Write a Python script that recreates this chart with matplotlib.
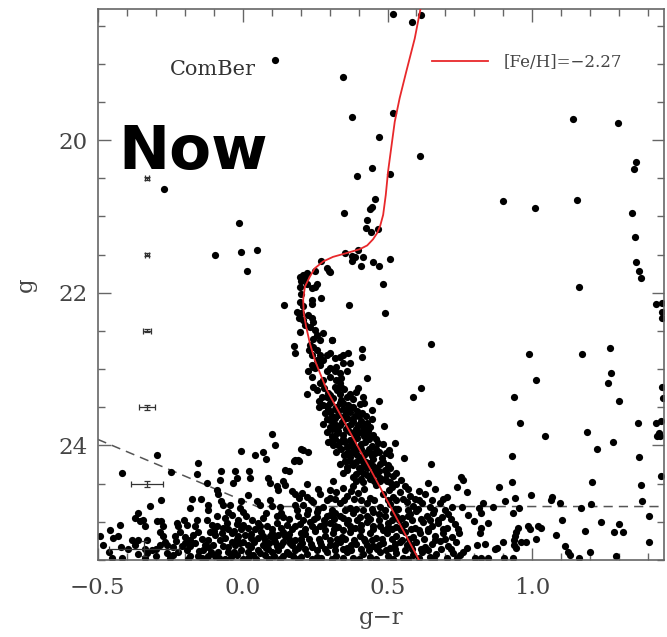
import numpy as np
import matplotlib
matplotlib.use("Agg")
import matplotlib.pyplot as plt
from matplotlib.ticker import MultipleLocator

#%% Data (g-r, g)
bright_stars = [
    (0.112, 18.95), (-0.27, 20.64), (-0.013, 21.09), (-0.094, 21.51), (-0.006, 21.47), (0.05, 21.44),
    (0.014, 21.71), (0.143, 22.16), (0.272, 22.07), (0.299, 21.72), (0.272, 21.59),
    (0.519, 18.35), (0.583, 18.46), (0.617, 18.36), (0.347, 19.18), (0.378, 19.70), (0.519, 19.65),
    (0.47, 19.96), (0.611, 20.21), (0.447, 20.36), (0.395, 20.47), (0.508, 20.45), (0.349, 20.95),
    (0.456, 20.77), (0.447, 20.88), (0.441, 20.90), (0.428, 21.05), (0.425, 21.15), (0.466, 21.17),
    (0.442, 21.21), (0.353, 21.48), (0.399, 21.44), (0.379, 21.58), (0.387, 21.53), (0.416, 21.53),
    (0.407, 21.65), (0.45, 21.60), (0.47, 21.65), (0.508, 21.56), (0.483, 21.88), (0.367, 22.16),
    (0.491, 22.27), (0.376, 21.52), (0.29, 21.67), (0.30, 21.73),
]
field_stars = [
    (1.141, 19.72), (1.295, 19.78), (1.359, 20.29), (1.35, 20.38), (0.897, 20.80), (1.01, 20.89),
    (1.153, 20.79), (1.345, 20.95), (1.353, 21.27), (1.359, 21.60), (1.367, 21.71), (1.376, 21.81),
    (1.161, 21.92), (1.428, 22.15), (1.447, 22.14), (1.447, 22.25), (1.447, 22.33), (1.267, 22.72),
    (1.172, 22.80), (1.272, 23.05), (1.26, 23.18), (1.299, 23.42), (1.446, 23.23), (1.45, 23.38),
    (1.364, 23.71), (1.425, 23.71), (1.443, 23.68), (1.437, 23.84), (1.43, 23.87), (1.442, 23.88),
    (1.045, 23.88), (1.19, 23.82), (0.649, 22.67), (0.987, 22.80), (1.012, 23.14), (0.428, 23.12),
    (0.588, 23.36), (0.617, 23.25), (0.937, 23.37), (0.956, 23.71), (1.224, 24.04), (1.278, 23.96),
    (0.93, 24.14), (1.368, 24.15), (0.412, 22.74), (0.412, 22.84), (0.471, 23.42), (0.488, 23.75),
    (0.525, 23.97), (0.505, 24.06), (0.556, 24.17), (0.649, 24.24),
]
turnoff_stars = [
    (0.249, 21.71), (0.221, 21.74), (0.209, 21.77), (0.198, 21.80), (0.215, 21.81), (0.203, 21.85),
    (0.221, 21.88), (0.198, 21.92), (0.238, 21.94), (0.255, 21.88), (0.249, 21.92), (0.238, 22.09),
    (0.241, 22.15), (0.203, 22.01), (0.198, 22.12), (0.207, 22.18), (0.186, 22.25), (0.203, 22.27),
    (0.195, 22.33), (0.209, 22.36), (0.226, 22.29), (0.238, 22.33), (0.243, 22.38), (0.215, 22.42),
    (0.232, 22.45), (0.249, 22.49), (0.198, 22.51), (0.255, 22.55), (0.267, 22.62), (0.243, 22.60),
    (0.307, 22.62), (0.276, 22.53), (0.177, 22.70), (0.180, 22.79), (0.232, 22.68), (0.243, 22.71),
    (0.230, 22.75), (0.255, 22.75), (0.238, 22.81), (0.267, 22.81), (0.255, 22.88), (0.238, 22.95),
    (0.249, 22.99), (0.267, 22.95), (0.278, 22.88), (0.290, 22.81), (0.301, 22.79), (0.318, 22.86),
    (0.336, 22.84), (0.347, 22.81), (0.364, 22.79), (0.347, 22.92), (0.370, 22.92), (0.324, 22.97),
    (0.301, 22.99), (0.318, 23.03), (0.336, 23.05), (0.290, 23.03), (0.359, 23.03), (0.341, 23.11),
    (0.324, 23.14), (0.301, 23.10), (0.336, 23.18), (0.278, 23.14), (0.267, 23.18), (0.243, 23.23),
    (0.238, 23.10), (0.226, 23.03), (0.243, 22.97), (0.318, 23.23), (0.341, 23.23), (0.399, 23.25),
    (0.309, 22.62),
]
ms_stars = [
    (0.221, 23.33), (0.273, 23.36), (0.296, 23.31), (0.313, 23.38), (0.336, 23.33), (0.359, 23.36), (0.382, 23.39),
    (0.278, 23.47), (0.301, 23.44), (0.324, 23.49), (0.347, 23.45), (0.370, 23.50), (0.405, 23.46),
    (0.284, 23.57), (0.307, 23.61), (0.330, 23.55), (0.353, 23.60), (0.370, 23.56), (0.388, 23.62), (0.411, 23.58), (0.445, 23.54),
    (0.278, 23.72), (0.301, 23.67), (0.319, 23.75), (0.342, 23.69), (0.365, 23.74), (0.382, 23.68), (0.399, 23.73), (0.428, 23.70), (0.439, 23.76),
    (0.29, 23.82), (0.307, 23.87), (0.33, 23.81), (0.347, 23.86), (0.37, 23.83), (0.388, 23.89), (0.411, 23.84), (0.428, 23.88), (0.434, 23.81),
    (0.296, 23.95), (0.313, 24.0), (0.336, 23.96), (0.359, 24.02), (0.382, 23.97), (0.399, 24.03), (0.422, 23.95), (0.445, 24.01), (0.468, 23.97),
    (0.324, 24.08), (0.37, 24.15), (0.388, 24.1), (0.405, 24.16), (0.428, 24.09), (0.445, 24.14), (0.457, 24.1), (0.48, 24.16), (0.508, 24.12),
    (0.336, 24.24), (0.359, 24.28), (0.393, 24.22), (0.416, 24.27), (0.439, 24.23), (0.462, 24.29), (0.503, 24.25),
    (0.347, 24.36), (0.382, 24.41), (0.405, 24.34), (0.428, 24.39), (0.451, 24.35), (0.474, 24.42), (0.497, 24.37), (0.52, 24.40),
    (0.221, 24.5), (0.313, 24.47), (0.382, 24.53), (0.416, 24.48), (0.462, 24.52), (0.497, 24.47), (0.514, 24.55), (0.531, 24.5),
    (0.56, 24.53), (0.641, 24.49),
    (0.262, 23.42), (0.29, 23.36), (0.318, 23.52), (0.34, 23.40), (0.362, 23.47), (0.295, 23.52), (0.32, 23.64), (0.345, 23.52),
    (0.378, 23.66), (0.4, 23.62), (0.31, 23.78), (0.335, 23.73), (0.356, 23.79), (0.39, 23.78), (0.415, 23.76), (0.32, 23.92),
    (0.345, 23.91), (0.37, 23.93), (0.395, 23.90), (0.42, 23.88), (0.34, 24.05), (0.36, 24.10), (0.385, 24.05), (0.41, 24.04),
    (0.435, 24.05), (0.46, 24.04), (0.37, 24.20), (0.41, 24.19), (0.45, 24.18), (0.485, 24.22), (0.43, 24.30), (0.47, 24.33),
    (0.39, 24.46), (0.44, 24.44), (0.49, 24.44),
]
ms_dense = [
    (0.255, 23.27), (0.28, 23.25), (0.30, 23.34), (0.325, 23.28), (0.35, 23.26), (0.37, 23.33), (0.39, 23.30), (0.415, 23.36),
    (0.265, 23.50), (0.29, 23.48), (0.335, 23.44), (0.355, 23.54), (0.38, 23.49), (0.42, 23.44), (0.30, 23.56), (0.33, 23.60),
    (0.36, 23.64), (0.395, 23.55), (0.425, 23.62), (0.29, 23.66), (0.315, 23.70), (0.35, 23.66), (0.375, 23.72), (0.41, 23.68),
    (0.445, 23.66), (0.30, 23.76), (0.325, 23.84), (0.36, 23.80), (0.38, 23.84), (0.40, 23.82), (0.42, 23.80), (0.45, 23.86),
    (0.31, 23.93), (0.33, 23.99), (0.355, 23.95), (0.375, 24.0), (0.41, 23.98), (0.435, 23.92), (0.46, 23.92), (0.485, 23.98),
    (0.35, 24.12), (0.375, 24.08), (0.395, 24.13), (0.42, 24.12), (0.44, 24.10), (0.47, 24.08), (0.495, 24.10), (0.355, 24.20),
    (0.38, 24.25), (0.40, 24.30), (0.425, 24.22), (0.45, 24.27), (0.475, 24.24), (0.51, 24.30), (0.36, 24.32), (0.39, 24.38),
    (0.415, 24.36), (0.44, 24.40), (0.465, 24.38), (0.49, 24.32), (0.53, 24.36), (0.41, 24.44), (0.455, 24.47), (0.475, 24.46),
    (0.51, 24.48), (0.545, 24.45),
]
faint_mid = [
    (0.204, 24.62), (0.221, 24.68), (0.267, 24.64), (0.301, 24.69), (0.324, 24.61), (0.359, 24.66), (0.399, 24.62), (0.439, 24.69),
    (0.485, 24.64), (0.52, 24.68), (0.543, 24.61), (0.577, 24.66), (0.595, 24.7), (0.629, 24.63), (0.704, 24.67),
    (0.21, 24.78), (0.244, 24.74), (0.278, 24.8), (0.336, 24.76), (0.37, 24.82), (0.428, 24.75), (0.474, 24.8), (0.508, 24.77),
    (0.537, 24.83), (0.566, 24.74), (0.589, 24.79), (0.618, 24.75), (0.646, 24.81), (0.681, 24.76), (0.721, 24.8),
    (0.221, 24.9), (0.255, 24.87), (0.29, 24.93), (0.319, 24.88), (0.347, 24.95), (0.382, 24.89), (0.405, 24.94), (0.451, 24.87),
    (0.491, 24.92), (0.52, 24.88), (0.549, 24.95), (0.577, 24.9), (0.6, 24.86), (0.635, 24.93), (0.658, 24.88), (0.687, 24.94), (0.71, 24.9),
    (0.198, 25.03), (0.233, 25.0), (0.267, 25.06), (0.301, 25.01), (0.33, 25.07), (0.359, 25.02), (0.388, 25.08), (0.428, 25.0),
    (0.474, 25.05), (0.503, 25.01), (0.531, 25.07), (0.56, 25.03), (0.595, 25.08), (0.623, 25.0), (0.652, 25.06), (0.675, 25.02),
    (0.704, 25.08), (0.733, 25.03),
    (0.215, 25.16), (0.25, 25.12), (0.284, 25.19), (0.313, 25.14), (0.342, 25.2), (0.37, 25.13), (0.405, 25.18), (0.439, 25.14),
    (0.462, 25.21), (0.497, 25.15), (0.531, 25.19), (0.56, 25.13), (0.589, 25.2), (0.612, 25.15), (0.641, 25.12), (0.664, 25.18),
    (0.692, 25.14), (0.721, 25.2),
    (0.204, 25.28), (0.238, 25.33), (0.267, 25.26), (0.301, 25.31), (0.336, 25.27), (0.359, 25.34), (0.393, 25.29), (0.422, 25.25),
    (0.451, 25.32), (0.485, 25.28), (0.508, 25.34), (0.543, 25.26), (0.566, 25.31), (0.6, 25.27), (0.629, 25.33), (0.652, 25.29),
    (0.681, 25.25), (0.71, 25.32), (0.738, 25.27),
    (0.221, 25.42), (0.255, 25.46), (0.29, 25.4), (0.324, 25.45), (0.359, 25.39), (0.382, 25.47), (0.416, 25.42), (0.439, 25.46),
    (0.474, 25.4), (0.503, 25.45), (0.531, 25.41), (0.554, 25.47), (0.589, 25.43), (0.618, 25.39), (0.646, 25.46), (0.669, 25.42),
    (0.704, 25.47), (0.727, 25.41),
]
faint_mid_dense = [
    (0.26, 24.57), (0.30, 24.58), (0.345, 24.56), (0.375, 24.59), (0.42, 24.57), (0.505, 24.58), (0.57, 24.57), (0.61, 24.59), (0.665, 24.57),
    (0.235, 24.71), (0.29, 24.72), (0.32, 24.70), (0.35, 24.72), (0.385, 24.70), (0.41, 24.71), (0.455, 24.72), (0.50, 24.71),
    (0.53, 24.72), (0.555, 24.70), (0.61, 24.72), (0.655, 24.71), (0.69, 24.70),
    (0.225, 24.84), (0.26, 24.83), (0.31, 24.85), (0.355, 24.84), (0.39, 24.83), (0.415, 24.85), (0.445, 24.83), (0.49, 24.85),
    (0.525, 24.83), (0.57, 24.85), (0.605, 24.83), (0.66, 24.85), (0.70, 24.84),
    (0.21, 24.97), (0.245, 24.96), (0.28, 24.98), (0.315, 24.96), (0.365, 24.98), (0.395, 24.97), (0.44, 24.96), (0.47, 24.97),
    (0.515, 24.97), (0.54, 24.98), (0.585, 24.97), (0.615, 24.96), (0.645, 24.98), (0.675, 24.97), (0.72, 24.96),
    (0.215, 25.10), (0.25, 25.09), (0.285, 25.11), (0.315, 25.09), (0.345, 25.11), (0.375, 25.09), (0.41, 25.11), (0.45, 25.09),
    (0.485, 25.11), (0.515, 25.10), (0.545, 25.11), (0.58, 25.09), (0.61, 25.11), (0.64, 25.09), (0.69, 25.10),
    (0.23, 25.23), (0.265, 25.22), (0.30, 25.24), (0.325, 25.23), (0.355, 25.22), (0.385, 25.24), (0.42, 25.22), (0.445, 25.24),
    (0.48, 25.23), (0.515, 25.22), (0.55, 25.24), (0.575, 25.22), (0.625, 25.23), (0.665, 25.24), (0.70, 25.22),
    (0.215, 25.36), (0.255, 25.37), (0.285, 25.35), (0.32, 25.37), (0.345, 25.36), (0.375, 25.37), (0.41, 25.35), (0.435, 25.37),
    (0.465, 25.36), (0.495, 25.37), (0.525, 25.35), (0.56, 25.37), (0.585, 25.36), (0.615, 25.35), (0.64, 25.37), (0.685, 25.36),
    (0.72, 25.35),
]
faint_left = [
    (0.103, 23.85), (0.111, 23.99), (-0.297, 24.12), (-0.006, 24.07), (0.042, 24.12), (0.069, 24.09), (0.079, 24.18),
    (-0.155, 24.23), (-0.157, 24.37), (-0.247, 24.35), (-0.417, 24.36), (-0.073, 24.34), (-0.027, 24.34), (-0.021, 24.43),
    (-0.032, 24.49), (0.022, 24.33), (0.025, 24.43), (-0.124, 24.49), (-0.078, 24.45), (0.088, 24.43), (0.094, 24.49),
    (0.117, 24.53), (0.123, 24.58), (0.148, 24.32), (0.16, 24.34), (0.178, 24.20), (0.194, 24.20), (0.201, 24.04),
    (0.14, 24.47), (0.146, 24.52), (0.169, 24.60), (0.18, 24.63), (-0.09, 24.58), (-0.084, 24.63), (-0.282, 24.71),
    (-0.173, 24.70), (-0.144, 24.70), (-0.32, 24.79), (-0.182, 24.82), (-0.121, 24.78), (-0.119, 24.84), (-0.073, 24.73),
    (-0.067, 24.78), (-0.044, 24.78), (-0.05, 24.87), (-0.038, 24.91), (-0.004, 24.73), (-0.009, 24.82), (0.002, 24.87),
    (0.048, 24.73), (0.06, 24.78), (0.019, 24.65), (0.094, 24.71), (0.1, 24.79), (0.129, 24.80), (0.134, 24.89),
    (0.14, 24.94), (0.18, 24.78), (0.186, 24.84), (0.194, 24.69), (-0.362, 24.89), (-0.371, 24.95), (-0.354, 24.99),
    (-0.343, 24.97), (-0.337, 25.06), (-0.297, 24.99), (-0.28, 24.99), (-0.274, 25.06), (-0.285, 25.13), (-0.274, 25.19),
    (-0.268, 25.26), (-0.285, 25.30), (-0.228, 25.01), (-0.222, 25.06), (-0.216, 25.13), (-0.233, 25.19), (-0.201, 24.97),
    (-0.193, 25.04), (-0.159, 24.97), (-0.165, 25.06), (-0.153, 25.13), (-0.17, 25.17), (-0.182, 25.24), (-0.165, 25.28),
    (-0.124, 24.97), (-0.107, 25.04), (-0.113, 25.13), (-0.095, 25.17), (-0.118, 25.24), (-0.101, 25.30), (-0.078, 25.24),
    (-0.061, 24.95), (-0.055, 25.02), (-0.067, 25.08), (-0.05, 25.10), (-0.038, 25.15), (-0.061, 25.21), (-0.038, 25.26),
    (-0.027, 25.30), (-0.067, 25.32), (-0.05, 25.39), (-0.015, 24.98), (0.002, 25.04), (-0.004, 25.10), (0.008, 25.17),
    (-0.015, 25.19), (0.002, 25.26), (0.019, 25.30), (-0.004, 25.37), (0.019, 25.39), (0.037, 25.43), (0.031, 24.97),
    (0.054, 25.02), (0.071, 24.95), (0.042, 25.10), (0.065, 25.13), (0.083, 25.06), (0.054, 25.21), (0.077, 25.24),
    (0.094, 25.19), (0.071, 25.30), (0.089, 25.35), (0.054, 25.37), (0.1, 25.39), (0.077, 25.43), (0.117, 25.02),
    (0.134, 25.08), (0.152, 25.04), (0.123, 25.17), (0.146, 25.19), (0.169, 25.10), (0.112, 25.26), (0.134, 25.30),
    (0.163, 25.28), (0.18, 25.24), (0.123, 25.37), (0.152, 25.39), (0.18, 25.37), (0.198, 25.30), (0.14, 25.45),
    (0.175, 25.45), (-0.458, 25.11), (-0.492, 25.19), (-0.446, 25.21), (-0.423, 25.04), (-0.429, 25.19), (-0.481, 25.30),
    (-0.383, 25.24), (-0.394, 25.35), (-0.371, 25.30), (-0.36, 25.24), (-0.331, 25.24), (-0.337, 25.35), (-0.331, 25.41),
    (-0.314, 25.37), (-0.262, 25.41), (-0.239, 25.43), (-0.222, 25.39), (-0.21, 25.32), (-0.193, 25.37), (-0.182, 25.45),
    (-0.153, 25.45), (-0.136, 25.37), (-0.118, 25.45), (-0.095, 25.45), (-0.084, 25.39), (-0.452, 25.48), (-0.417, 25.48),
    (-0.337, 25.48), (0.18, 24.19), (0.192, 24.19), (0.207, 24.06), (0.226, 24.08),
]
faint_left_dense = [
    (-0.02, 25.03), (0.02, 25.08), (0.06, 25.06), (0.10, 25.10), (0.14, 25.13), (0.18, 25.06), (0.20, 25.15), (-0.03, 25.12),
    (0.03, 25.16), (0.07, 25.19), (0.11, 25.22), (0.16, 25.22), (0.20, 25.22), (-0.05, 25.33), (-0.01, 25.28), (0.04, 25.26),
    (0.09, 25.28), (0.14, 25.26), (0.19, 25.34), (-0.02, 25.44), (0.02, 25.47), (0.06, 25.41), (0.11, 25.45), (0.16, 25.42),
    (0.20, 25.46), (-0.14, 25.22), (-0.13, 25.30), (-0.15, 25.38), (-0.12, 25.33), (-0.08, 25.47), (-0.20, 25.28), (-0.24, 25.33),
    (-0.25, 25.47), (-0.30, 25.45), (-0.20, 25.20), (-0.09, 25.05), (-0.09, 24.93), (0.01, 24.93), (0.08, 24.88), (0.12, 24.92),
    (0.16, 24.96), (0.19, 24.92),
]
bottom_edge = [
    (-0.19, 25.49), (-0.13, 25.49), (-0.06, 25.49), (-0.03, 25.40), (0.0, 25.49), (0.045, 25.49), (0.09, 25.49), (0.13, 25.49),
    (0.19, 25.49), (0.24, 25.49), (0.27, 25.48), (0.31, 25.49), (0.345, 25.48), (0.40, 25.49), (0.46, 25.49), (0.52, 25.49),
    (0.57, 25.49), (0.61, 25.48), (0.66, 25.49), (-0.46, 25.40), (-0.42, 25.33), (-0.36, 25.42), (-0.30, 25.35), (-0.26, 25.30),
    (-0.23, 25.25), (-0.18, 25.32), (-0.14, 25.47), (-0.11, 25.40), (-0.04, 25.46), (0.03, 25.33), (0.08, 25.34), (0.12, 25.32),
    (0.17, 25.31), (0.235, 25.29), (0.27, 25.31), (0.32, 25.30), (0.375, 25.31), (0.43, 25.30), (0.47, 25.31), (0.525, 25.29),
    (0.58, 25.30), (0.24, 25.06), (0.28, 25.03), (0.32, 25.05), (0.37, 25.05), (0.41, 25.04), (0.45, 25.05), (0.50, 25.07),
    (0.55, 25.05), (0.255, 24.94), (0.30, 24.91), (0.335, 24.92), (0.43, 24.92), (0.47, 24.90), (0.53, 24.92), (0.57, 24.92),
    (-0.10, 25.12), (-0.07, 25.15), (-0.02, 25.22), (0.03, 25.21), (0.10, 25.15), (0.16, 25.16),
]
faint_right = [
    (0.755, 24.41), (0.761, 24.45), (0.741, 24.54), (0.773, 24.61), (0.885, 24.54), (0.93, 24.48), (1.207, 24.48),
    (1.445, 24.40), (1.376, 24.52), (0.904, 24.73), (0.939, 24.69), (0.994, 24.65), (1.066, 24.67), (1.063, 24.71),
    (1.094, 24.76), (1.167, 24.82), (1.201, 24.77), (1.379, 24.73), (0.828, 24.75), (0.864, 24.80), (0.816, 24.82),
    (0.822, 24.89), (0.757, 24.81), (0.778, 24.91), (0.933, 24.89), (0.953, 24.82), (1.102, 24.98), (1.236, 25.0),
    (1.401, 24.92), (0.799, 24.99), (0.847, 25.02), (0.824, 25.08), (0.818, 25.14), (0.744, 25.09), (0.746, 25.15),
    (0.95, 25.08), (0.945, 25.13), (0.939, 25.19), (0.937, 25.24), (0.937, 25.30), (0.943, 25.34), (0.985, 25.06),
    (0.991, 25.10), (1.019, 25.05), (1.029, 25.08), (1.08, 25.17), (1.011, 25.23), (0.962, 25.26), (0.979, 25.26),
    (1.18, 25.12), (1.283, 25.13), (1.298, 25.03), (1.312, 25.13), (1.402, 25.26), (0.879, 25.34), (0.87, 25.36),
    (0.899, 25.27), (0.81, 25.30), (0.836, 25.29), (0.776, 25.34), (1.112, 25.32), (1.123, 25.39), (1.129, 25.43),
    (1.16, 25.47), (1.198, 25.39), (1.29, 25.45), (0.801, 25.47), (0.824, 25.47), (0.847, 25.47), (0.902, 25.47),
    (0.933, 25.47), (0.749, 25.43), (0.761, 25.39), (0.741, 25.48),
]

# isochrone [Fe/H] = -2.27
iso_gr = [0.618, 0.594, 0.565, 0.542, 0.525, 0.514, 0.502, 0.494, 0.485, 0.475, 0.464, 0.45, 0.43, 0.404, 0.359,
          0.312, 0.278, 0.249, 0.232, 0.215, 0.209, 0.211, 0.219, 0.232, 0.249, 0.272, 0.29, 0.445, 0.606, 0.615]
iso_g = [18.2, 18.67, 19.10, 19.45, 19.76, 20.07, 20.41, 20.72, 20.98, 21.12, 21.22, 21.30, 21.38, 21.43, 21.48,
         21.53, 21.59, 21.68, 21.79, 21.92, 22.09, 22.27, 22.44, 22.66, 22.88, 23.10, 23.27, 24.34, 25.48, 25.55]

# completeness limit (dashed)
limit_gr = [-0.5, 0.05, 1.45]
limit_g = [23.92, 24.8, 24.8]

# photometric errors
err_gr = [-0.33, -0.33, -0.33, -0.33, -0.33, -0.34]
err_g = [20.5, 21.5, 22.5, 23.5, 24.5, 25.35]
err_dgr = [0.007, 0.008, 0.014, 0.028, 0.055, 0.12]
err_dg = [0.02, 0.02, 0.02, 0.03, 0.04, 0.1]

#%% Plot
axis_grey = '#666666'
serif = 'DejaVu Serif'

fig = plt.figure(figsize=(6.67, 6.37), dpi=100)
ax = fig.add_axes([0.1465, 0.1209, 0.8485, 0.8654])

stars = np.array(bright_stars + field_stars + turnoff_stars + ms_stars + ms_dense + faint_mid
                 + faint_mid_dense + faint_left + faint_left_dense + bottom_edge + faint_right)
ax.scatter(stars[:, 0], stars[:, 1], s=27, c='black', linewidths=0, zorder=2)

ax.plot(limit_gr, limit_g, color='#555555', lw=1.1, ls=(0, (6, 4)), zorder=1)
ax.errorbar(err_gr, err_g, xerr=err_dgr, yerr=err_dg, fmt='none', ecolor='#333333',
            elinewidth=0.9, capsize=2.5, capthick=0.9, zorder=2)
ax.plot(iso_gr, iso_g, color='#e8282b', lw=1.3, label='[Fe/H]=\u22122.27', zorder=3)

ax.set_xlim(-0.5, 1.453)
ax.set_ylim(25.5, 18.28)

ax.xaxis.set_major_locator(MultipleLocator(0.5))
ax.xaxis.set_minor_locator(MultipleLocator(0.1))
ax.yaxis.set_major_locator(MultipleLocator(2))
ax.yaxis.set_minor_locator(MultipleLocator(0.5))
ax.xaxis.set_major_formatter(lambda v, p: f'{v:.1f}'.replace('-', '\u2212'))
ax.yaxis.set_major_formatter(lambda v, p: f'{v:.0f}')

ax.tick_params(which='both', direction='in', top=True, right=True, color=axis_grey,
               labelcolor='#444444', labelsize=16.5)
ax.tick_params(which='major', length=9, width=1.0)
ax.tick_params(which='minor', length=5, width=1.0)
ax.tick_params(axis='x', pad=12)
ax.tick_params(axis='y', pad=7)
for lab in ax.get_xticklabels() + ax.get_yticklabels():
    lab.set_family(serif)
for sp in ax.spines.values():
    sp.set_color(axis_grey)
    sp.set_linewidth(1.2)

ax.set_xlabel('g\u2212r', fontsize=16.5, family=serif, color='#444444', labelpad=6)
ax.set_ylabel('g', fontsize=16.5, family=serif, color='#444444', labelpad=16)

ax.text(0.204, 0.889, 'ComBer', transform=ax.transAxes, fontsize=15, family=serif,
        color='#333333', ha='center', va='center')
ax.legend(loc='center left', bbox_to_anchor=(0.59, 0.903), frameon=False, borderpad=0,
          borderaxespad=0, handlelength=3.4, handletextpad=0.9,
          prop={'family': serif, 'size': 12}, labelcolor='#444444')

fig.text(0.289, 0.76, 'Now', fontsize=44, fontweight='bold', family='DejaVu Sans',
         ha='center', va='center', color='black')

fig.savefig('out.png', dpi=100)
